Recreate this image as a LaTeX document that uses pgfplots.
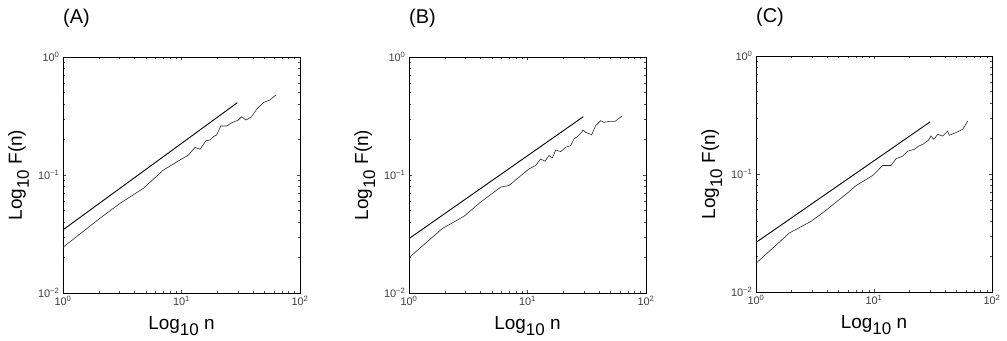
\documentclass[border=0pt]{standalone}
\usepackage{pgfplots}
\pgfplotsset{compat=1.18}
\usepackage{fontspec}
\setmainfont{Liberation Sans}

\pgfplotstableread{
n F
1 0.0343
29.58 0.410
}\lineA
\pgfplotstableread{
n F
1 0.0244
2.051 0.0430
3.027 0.0575
4.764 0.0771
7.031 0.1102
9.705 0.1340
11.43 0.1476
13.00 0.1714
14.32 0.1652
16.11 0.1954
17.42 0.1982
18.54 0.2113
19.82 0.2183
21.43 0.2600
24.04 0.2600
26.55 0.2773
30.20 0.2924
32.21 0.3119
34.99 0.2924
39.08 0.3119
43.05 0.3606
48.98 0.4102
55.85 0.4325
62.66 0.4764
}\dataA
\pgfplotstableread{
n F
1 0.0289
29.58 0.3119
}\lineB
\pgfplotstableread{
n F
1 0.0199
1.910 0.0352
2.911 0.0447
4.027 0.0590
5.943 0.0789
6.982 0.0815
8.472 0.0959
10.30 0.1127
11.72 0.1202
12.91 0.1368
14.06 0.1309
15.17 0.1462
16.22 0.1396
17.30 0.1629
19.05 0.1578
20.99 0.1718
23.12 0.1774
24.66 0.2018
26.30 0.2113
28.64 0.2296
29.38 0.2404
30.97 0.2296
34.83 0.2198
37.58 0.2618
41.40 0.2884
44.16 0.2793
48.75 0.2844
54.70 0.2844
63.10 0.3177
}\dataB
\pgfplotstableread{
n F
1 0.0263
29.85 0.2761
}\lineC
\pgfplotstableread{
n F
1 0.0175
1.914 0.0316
2.924 0.0397
3.673 0.0468
5.082 0.0607
5.984 0.0692
7.031 0.0798
9.750 0.0971
11.83 0.1180
13.93 0.1180
15.35 0.1346
17.50 0.1419
19.28 0.1563
21.98 0.1618
23.93 0.1726
25.88 0.1782
29.04 0.1941
30.41 0.2099
32.06 0.1968
34.67 0.2168
38.19 0.2099
42.07 0.2312
43.45 0.2128
49.55 0.2244
56.49 0.2393
62.23 0.2812
}\dataC

\pgfplotsset{
  panel/.style={
    scale only axis,
    height=236bp,
    xmin=1, xmax=100, ymin=0.01, ymax=1,
    xtick={1,10,100},
    xticklabels={10\textsuperscript{0},10\textsuperscript{1},10\textsuperscript{2}},
    ytick={0.01,0.1,1},
    yticklabels={10\textsuperscript{−2},10\textsuperscript{−1},10\textsuperscript{0}},
    ticklabel style={font=\fontsize{11}{13}\selectfont, text=black!75},
    tick style={black!70},
    major tick length=3.5bp,
    minor tick length=2bp,
    axis line style={black, line width=0.6bp},
    xlabel={Log\raisebox{-6.5bp}{\fontsize{17}{17}\selectfont 10} n},
    ylabel={Log\raisebox{-7bp}{\fontsize{17}{17}\selectfont 10} F(n)},
    label style={font=\fontsize{19}{21}\selectfont},
    xlabel style={at={(axis description cs:0.5,0)}, anchor=base, yshift=-36bp},
    ylabel style={at={(axis description cs:0,0.5)}, anchor=base, yshift=41bp},
    title style={at={(axis description cs:0,1)}, anchor=west, inner sep=0pt, yshift=33bp, font=\fontsize{20}{22}\selectfont},
    anchor=south west,
  },
}

\begin{document}
\begin{tikzpicture}
\path[use as bounding box] (0,0) rectangle (1007bp,341bp);

\begin{loglogaxis}[panel, at={(63bp,48bp)}, width=237bp, title={(A)}]
\addplot[black, line width=0.9bp] table[x=n,y=F] {\lineA};
\addplot[black!85, line width=0.6bp] table[x=n,y=F] {\dataA};
\end{loglogaxis}

\begin{loglogaxis}[panel, at={(409bp,48bp)}, width=237bp, title={(B)}]
\addplot[black, line width=0.9bp] table[x=n,y=F] {\lineB};
\addplot[black!85, line width=0.6bp] table[x=n,y=F] {\dataB};
\end{loglogaxis}

\begin{loglogaxis}[panel, at={(756bp,49bp)}, width=236bp, title={(C)}]
\addplot[black, line width=0.9bp] table[x=n,y=F] {\lineC};
\addplot[black!85, line width=0.6bp] table[x=n,y=F] {\dataC};
\end{loglogaxis}
\end{tikzpicture}
\end{document}
